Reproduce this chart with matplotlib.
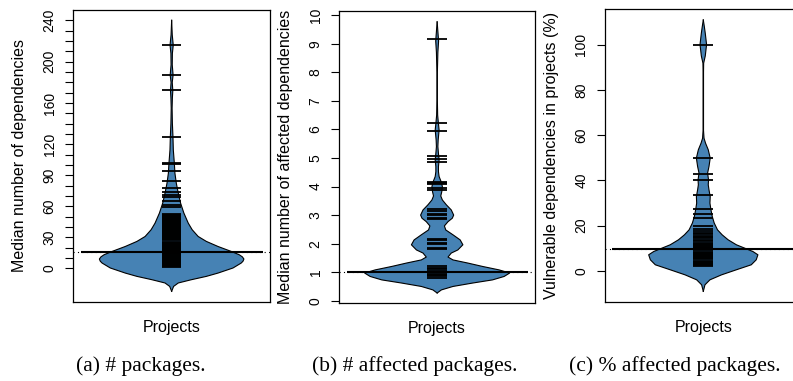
import matplotlib
matplotlib.use('Agg')
import matplotlib.pyplot as plt
import numpy as np

plt.rcParams['font.family'] = ['Liberation Sans', 'DejaVu Sans']

BEAN_COLOR = '#4682B4'

# ---------------- data ----------------
# (a) median number of dependencies
a_levels = [-22.2, -17.4, -14.1, -10.9, -7.7, -4.5, 0.4, 5.2, 7.0, 9.1, 11.2, 13.2, 16.4,
            21.2, 26.1, 30.9, 37.4, 43.8, 53.5, 63.1, 72.8, 82.4, 92.1, 101.7, 114.6,
            127.4, 140.3, 155, 165, 172, 180, 187, 197, 208, 216, 226, 240]
a_density = [0, 0.027, 0.091, 0.273, 0.477, 0.637, 0.842, 0.955, 0.98, 0.992, 0.97, 0.928,
             0.819, 0.637, 0.477, 0.364, 0.282, 0.228, 0.168, 0.123, 0.091, 0.064, 0.045,
             0.037, 0.023, 0.018, 0.010, 0.006, 0.010, 0.016, 0.008, 0.020, 0.008, 0.010,
             0.022, 0.008, 0]
a_values = [216.6, 187.3, 172.5, 127.4, 102.3, 101.2, 94.0, 84.5, 77.6, 74.3, 71.1, 68.9,
            65.6, 61.5, 59.3,
            1, 2, 3, 4, 5, 6, 7, 8, 9, 10, 11, 12, 13, 14, 15, 16, 17, 18, 19, 20,
            21, 22, 23, 24, 25, 26, 27, 28, 29, 30, 31, 32, 33, 34, 35, 36, 37, 38, 39,
            40, 41, 42, 43, 44, 45, 46, 47, 48, 49, 50, 51, 52, 53]
a_mean = 16.0
a_ticks = [0, 10, 20, 30, 40, 50, 60, 70, 80, 90, 100, 110, 120, 130, 140, 150, 160, 170,
           180, 190, 200, 210, 220, 230, 240]
a_ticklabels = ['0', '', '', '30', '', '', '60', '', '', '90', '', '', '120', '', '', '',
                '160', '', '', '', '200', '', '', '', '240']

# (b) median number of affected dependencies
b_levels = [0.27, 0.38, 0.5, 0.62, 0.73, 0.85, 0.97, 1.08, 1.2, 1.32, 1.43, 1.53, 1.67,
            1.78, 1.96, 2.13, 2.31, 2.48, 2.62, 2.77, 2.89, 3.0, 3.18, 3.36, 3.53, 3.67,
            3.82, 4.0, 4.17, 4.35, 4.52, 4.7, 4.93, 5.16, 5.4, 5.63, 5.98, 6.2, 6.5, 7.0,
            8.0, 8.7, 9.1, 9.4, 9.77]
b_density = [0, 0.059, 0.218, 0.491, 0.764, 0.924, 1.0, 0.855, 0.628, 0.423, 0.218, 0.150,
             0.195, 0.286, 0.355, 0.318, 0.218, 0.119, 0.100, 0.150, 0.209, 0.228, 0.195,
             0.127, 0.072, 0.050, 0.064, 0.072, 0.055, 0.027, 0.018, 0.018, 0.027, 0.018,
             0.010, 0.014, 0.027, 0.018, 0.007, 0.003, 0.003, 0.010, 0.020, 0.011, 0]
b_values = [0.8, 0.85, 0.9, 0.95, 1.0, 1.05, 1.1, 1.15, 1.2,
            1.82, 1.86, 1.97, 2.01, 2.13, 2.17,
            2.85, 2.89, 3.01, 3.05, 3.16, 3.2,
            3.88, 3.96, 4.08, 4.11, 4.17,
            4.87, 4.95, 5.07, 5.94, 6.21, 9.18]
b_mean = 1.0
b_ticks = [0, 1, 2, 3, 4, 5, 6, 7, 8, 9, 10]
b_ticklabels = ['0', '1', '2', '3', '4', '5', '6', '7', '8', '9', '10']

# (c) vulnerable dependencies in projects (%)
c_levels = [-9.1, -6.2, -4.0, -1.8, 0.44, 2.65, 4.86, 7.07, 8.5, 10.0, 11.5, 13.7, 15.9,
            18.1, 21.1, 24.0, 27.0, 29.9, 32.8, 35.8, 38.0, 40.2, 43.2, 46.1, 49.8, 53.5,
            56.4, 58.6, 62, 88, 91.8, 95, 100, 105, 108, 110.9]
c_density = [0, 0.023, 0.091, 0.25, 0.454, 0.659, 0.727, 0.75, 0.682, 0.569, 0.454, 0.341,
             0.259, 0.195, 0.150, 0.123, 0.105, 0.091, 0.095, 0.078, 0.068, 0.072, 0.059,
             0.078, 0.095, 0.068, 0.031, 0.010, 0.003, 0.003, 0.005, 0.027, 0.045, 0.027,
             0.014, 0]
c_values = [2.0, 2.5, 3.0, 3.5, 4.0, 4.5, 5.0, 5.5, 6.0, 6.5, 7.0, 7.5, 8.0, 8.5, 9.0,
            9.5, 10.0, 10.5, 11.0, 11.5, 12.0, 12.5, 13.0, 13.6, 14.3, 15.0, 15.5, 16.2,
            16.7, 17.6, 18.4, 20.0, 23.3, 25.0, 27.3, 33.3, 40.0, 42.9, 50.0, 100.0]
c_mean = 9.6
c_ticks = [0, 20, 40, 60, 80, 100]
c_ticklabels = ['0', '20', '40', '60', '80', '100']

panels = [
    dict(levels=a_levels, density=a_density, values=a_values, mean=a_mean,
         ticks=a_ticks, ticklabels=a_ticklabels, ylim=(-32.5, 250),
         ylabel='Median number of dependencies', caption='(a) # packages.',
         rect=[73.3, 10, 270, 302], capx=140.5),
    dict(levels=b_levels, density=b_density, values=b_values, mean=b_mean,
         ticks=b_ticks, ticklabels=b_ticklabels, ylim=(-0.09, 10.15),
         ylabel='Median number of affected dependencies', caption='(b) # affected packages.',
         rect=[339.3, 11, 535, 303.3], capx=415),
    dict(levels=c_levels, density=c_density, values=c_values, mean=c_mean,
         ticks=c_ticks, ticklabels=c_ticklabels, ylim=(-13.8, 115.6),
         ylabel='Vulnerable dependencies in projects (%)', caption='(c) % affected packages.',
         rect=[605, 9.3, 801.6, 302], capx=675),
]

W, H = 793, 381
fig = plt.figure(figsize=(W / 100, H / 100), dpi=100)

for p in panels:
    l, t, r, b = p['rect']
    ax = fig.add_axes([l / W, (H - b) / H, (r - l) / W, (b - t) / H])
    ax.set_xlim(0.46, 1.54)
    ax.set_ylim(*p['ylim'])
    lev = np.array(p['levels'])
    den = np.array(p['density']) * 0.4
    ax.fill_betweenx(lev, 1 - den, 1 + den, facecolor=BEAN_COLOR, edgecolor='none', zorder=2)
    ax.plot(1 - den, lev, color='black', lw=0.8, zorder=3)
    ax.plot(1 + den, lev, color='black', lw=0.8, zorder=3)
    # beanlines
    ax.hlines(p['values'], 1 - 0.054, 1 + 0.054, color='black', lw=1.3, zorder=4)
    # overall (dotted) and bean average line
    ax.axhline(p['mean'], color='black', lw=0.8, ls=(0, (1, 3)), zorder=1)
    ax.hlines([p['mean']], 0.5, 1.5, color='black', lw=1.5, zorder=5)

    ax.set_xticks([])
    ax.set_yticks(p['ticks'])
    ax.set_yticklabels(p['ticklabels'], rotation=90, va='center', fontsize=10)
    ax.tick_params(axis='y', length=6, width=0.8, pad=6)
    for s in ax.spines.values():
        s.set_linewidth(0.9)
    ax.set_ylabel(p['ylabel'], fontsize=11.5)
    ax.yaxis.set_label_coords(-46 / (r - l), 0.5)
    ax.text(0.5, -30 / (b - t), 'Projects', transform=ax.transAxes, ha='center',
            va='baseline', fontsize=11.5)
    fig.text(p['capx'] / W, (H - 371) / H, p['caption'], ha='center', va='baseline',
             fontsize=15.5, family=['Liberation Serif', 'DejaVu Serif'])

fig.savefig('out.png', dpi=100)
